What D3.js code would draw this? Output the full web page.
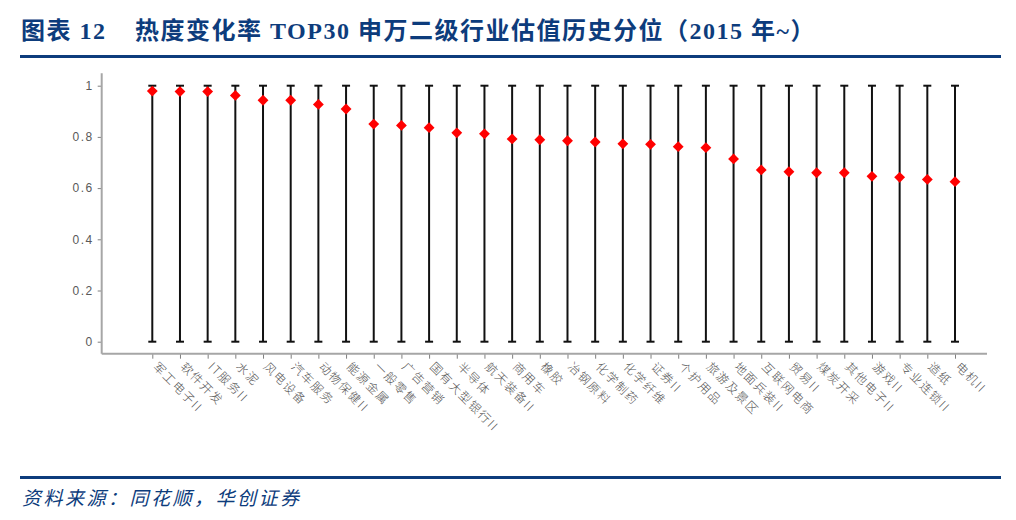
<!DOCTYPE html>
<html>
<head>
<meta charset="utf-8">
<script src="https://cdn.jsdelivr.net/npm/d3@7/dist/d3.min.js"></script>
<style>
  body { margin: 0; background: #fff; }
  svg { display: block; }
</style>
</head>
<body>
<svg id="chart" width="1016" height="520"></svg>
<script>
// Industries, sorted by heat change rate (top 30)
var categories = [
  '军工电子II', '软件开发', 'IT服务II', '水泥', '风电设备', '汽车服务',
  '动物保健II', '能源金属', '一般零售', '广告营销', '国有大型银行II', '半导体',
  '航天装备II', '商用车', '橡胶', '冶钢原料', '化学制药', '化学纤维',
  '证券II', '个护用品', '旅游及景区', '地面兵装II', '互联网电商', '贸易II',
  '煤炭开采', '其他电子II', '游戏II', '专业连锁II', '造纸', '电机II'
];

// Current valuation percentile (since 2015)
var percentile = [
  0.979, 0.977, 0.977, 0.962, 0.943, 0.943,
  0.927, 0.909, 0.850, 0.845, 0.836, 0.816,
  0.812, 0.792, 0.789, 0.785, 0.780, 0.773,
  0.771, 0.762, 0.758, 0.714, 0.671, 0.664,
  0.660, 0.660, 0.646, 0.642, 0.634, 0.625
];

// Range of each bar (min / max of the historical percentile)
var rangeLow = 0;
var rangeHigh = 1;

var yTicks = [0, 0.2, 0.4, 0.6, 0.8, 1];

var svg = d3.select('#chart');
var navy = '#0d3c7c';

// Header: title and rule
var title = svg.append('g')
  .style('font-family', '"Liberation Serif", "Noto Sans CJK SC", serif')
  .style('font-weight', 'bold')
  .style('font-size', '24px')
  .style('letter-spacing', '1.5px')
  .attr('fill', navy);

title.append('text').attr('x', 21).attr('y', 39).text('图表 12');
title.append('text').attr('x', 135).attr('y', 39)
  .text('热度变化率 TOP30 申万二级行业估值历史分位（2015 年~）');

svg.append('rect').attr('x', 20).attr('y', 55).attr('width', 981).attr('height', 3).attr('fill', navy);

// Footer
svg.append('rect').attr('x', 20).attr('y', 476).attr('width', 981).attr('height', 3).attr('fill', navy);
svg.append('text')
  .attr('x', 22).attr('y', 505)
  .style('font-family', '"Noto Sans CJK SC", sans-serif')
  .style('font-size', '19px')
  .style('letter-spacing', '2.5px')
  .style('font-style', 'italic')
  .attr('fill', navy)
  .text('资料来源：同花顺，华创证券');

// Scales
var x = d3.scalePoint()
  .domain(categories)
  .range([152.3, 955]);

var y = d3.scaleLinear()
  .domain([0, 1])
  .range([341.7, 85.7]);

var axisLeftX = 101.7;
var axisBottomY = 353.7;
var axisColor = '#a6a6a6';

var plot = svg.append('g');

// Y axis
var yAxis = plot.append('g')
  .attr('transform', 'translate(' + axisLeftX + ',0)')
  .call(d3.axisLeft(y).tickValues(yTicks).tickSize(4).tickPadding(4)
    .tickFormat(function(d) { return d === 0 || d === 1 ? String(d) : d3.format('.1f')(d); }));
yAxis.select('.domain').remove();
yAxis.selectAll('.tick line').attr('stroke', '#7f7f7f');
yAxis.selectAll('.tick text')
  .attr('fill', '#595959')
  .style('font-family', '"Liberation Sans", "DejaVu Sans", sans-serif')
  .style('font-size', '12px')
  .style('letter-spacing', '1.5px');

plot.append('line')
  .attr('x1', axisLeftX).attr('x2', axisLeftX)
  .attr('y1', y(1) - 12.5).attr('y2', axisBottomY)
  .attr('stroke', axisColor).attr('stroke-width', 2);

// X axis
var xAxis = plot.append('g')
  .attr('transform', 'translate(0,' + axisBottomY + ')')
  .call(d3.axisBottom(x).tickSize(5).tickFormat(''));
xAxis.select('.domain').remove();
xAxis.selectAll('.tick line').attr('stroke', '#7f7f7f');

plot.append('line')
  .attr('x1', axisLeftX).attr('x2', 987)
  .attr('y1', axisBottomY).attr('y2', axisBottomY)
  .attr('stroke', axisColor).attr('stroke-width', 2);

// Rotated category labels
plot.append('g')
  .selectAll('text')
  .data(categories)
  .enter()
  .append('text')
  .attr('transform', function(d) { return 'translate(' + x(d) + ',' + (axisBottomY + 8) + ') rotate(45)'; })
  .attr('x', 4)
  .attr('dy', '0.35em')
  .attr('fill', '#555')
  .style('font-family', '"Noto Sans CJK SC", sans-serif')
  .style('font-size', '12px')
  .style('font-weight', '300')
  .style('letter-spacing', '1.6px')
  .text(function(d) { return d; });

// Range bars with caps
var bars = plot.append('g')
  .selectAll('g')
  .data(categories)
  .enter()
  .append('g');

bars.append('line')
  .attr('x1', function(d) { return x(d); })
  .attr('x2', function(d) { return x(d); })
  .attr('y1', y(rangeLow))
  .attr('y2', y(rangeHigh))
  .attr('stroke', '#111').attr('stroke-width', 2);

[rangeLow, rangeHigh].forEach(function(v) {
  bars.append('line')
    .attr('x1', function(d) { return x(d) - 4; })
    .attr('x2', function(d) { return x(d) + 4; })
    .attr('y1', y(v))
    .attr('y2', y(v))
    .attr('stroke', '#111').attr('stroke-width', 2);
});

// Current percentile markers (red diamonds)
plot.append('g')
  .selectAll('path')
  .data(percentile)
  .enter()
  .append('path')
  .attr('d', d3.symbol().type(d3.symbolDiamond2).size(75))
  .attr('transform', function(d, i) { return 'translate(' + x(categories[i]) + ',' + y(d) + ')'; })
  .attr('fill', '#ff0000');
</script>
</body>
</html>
